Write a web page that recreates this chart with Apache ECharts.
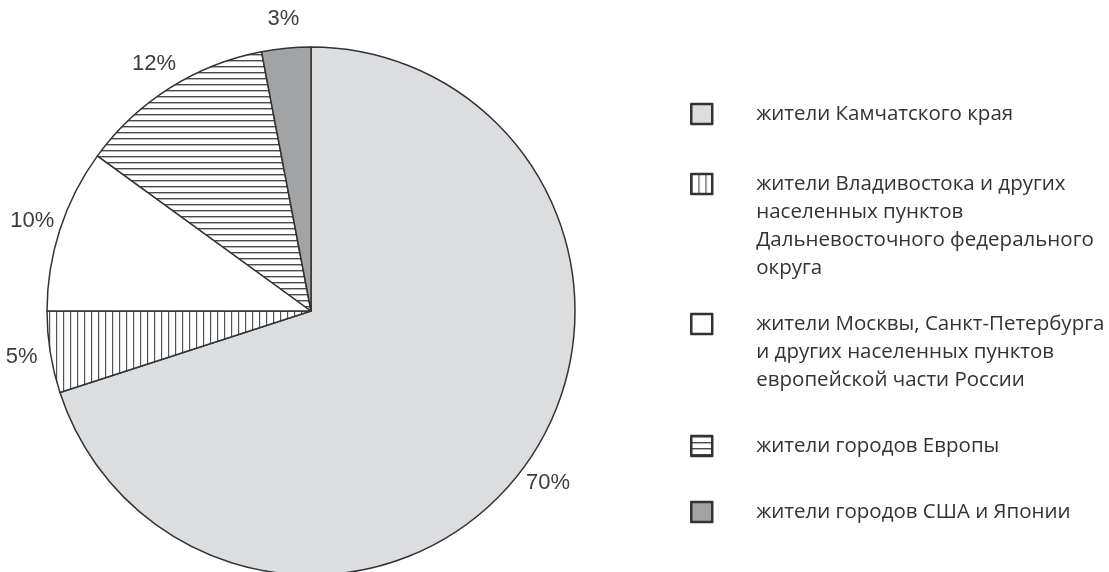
<!DOCTYPE html>
<html>
<head>
<meta charset="utf-8">
<script src="https://cdn.jsdelivr.net/npm/echarts@6/dist/echarts.min.js"></script>
<style>
  html, body { margin: 0; padding: 0; background: #fff; }
  #chart { width: 1109px; height: 572px; }
</style>
</head>
<body>
<div id="chart"></div>
<script>
// доли групп (по часовой стрелке от 12 часов)
const names = [
  'жители Камчатского края',
  'жители Владивостока и других населенных пунктов Дальневосточного федерального округа',
  'жители Москвы, Санкт-Петербурга и других населенных пунктов европейской части России',
  'жители городов Европы',
  'жители городов США и Японии'
];
const legendLines = [
  ['жители Камчатского края'],
  ['жители Владивостока и других', 'населенных пунктов', 'Дальневосточного федерального', 'округа'],
  ['жители Москвы, Санкт-Петербурга', 'и других населенных пунктов', 'европейской части России'],
  ['жители городов Европы'],
  ['жители городов США и Японии']
];
const values = [70, 5, 10, 12, 3];
const percentLabels = ['70%', '5%', '10%', '12%', '3%'];

// штриховки
function stripes(size, vertical, bg, line) {
  const c = document.createElement('canvas');
  c.width = size; c.height = size;
  const ctx = c.getContext('2d');
  ctx.fillStyle = bg;
  ctx.fillRect(0, 0, size, size);
  ctx.fillStyle = line;
  if (vertical) ctx.fillRect(0, 0, 1.2, size);
  else ctx.fillRect(0, 0, size, 1.4);
  return c;
}

const fills = [
  '#dcdddf',
  { image: stripes(7, true, '#ffffff', '#555555'), repeat: 'repeat' },
  '#ffffff',
  { image: stripes(6, false, '#ffffff', '#4a4a4a'), repeat: 'repeat' },
  '#a2a3a5'
];

const chart = echarts.init(document.getElementById('chart'));

const cx = 311, cy = 311, R = 264;
const lineH = 28;
const iconTops = [104, 174, 314, 436, 502];

// одна легенда на пункт: иконка напротив первой строки
const legends = names.map((name, i) => {
  const n = legendLines[i].length;
  const offset = (2 * n - 1) * 14 - 10;
  // пустые строки сверху сдвигают блок так, что первая строка встает по центру иконки
  const text = new Array(n - 1).fill('').concat(legendLines[i]).join('\n');
  return {
    orient: 'vertical',
    left: 690,
    top: iconTops[i] - offset,
    padding: 0,
    selectedMode: false,
    icon: 'rect',
    itemWidth: 21,
    itemHeight: 20,
    itemStyle: { borderColor: '#333', borderWidth: 2.5 },
    data: [name],
    formatter: () => text,
    textStyle: {
      fontFamily: 'Open Sans',
      fontSize: 20.5,
      lineHeight: lineH,
      color: '#333',
      padding: [0, 0, 0, 39]
    }
  };
});

const option = {
  animation: false,
  legend: legends,
  series: [
    {
      type: 'pie',
      center: [cx, cy],
      radius: [0, R],
      startAngle: 90,
      clockwise: true,
      silent: true,
      label: { show: false },
      labelLine: { show: false },
      itemStyle: { borderColor: '#333', borderWidth: 1.5 },
      data: names.map((name, i) => ({
        name,
        value: values[i],
        itemStyle: { color: fills[i] }
      }))
    },
    {
      // кольцо для подписей процентов
      type: 'pie',
      center: [cx, cy],
      radius: [R, R + 52],
      startAngle: 90,
      clockwise: true,
      silent: true,
      itemStyle: { color: 'rgba(0,0,0,0)', borderWidth: 0 },
      labelLine: { show: false },
      label: {
        show: true,
        position: 'inside',
        fontFamily: 'Liberation Sans',
        fontSize: 22,
        color: '#3c3c3c',
        formatter: (p) => percentLabels[p.dataIndex]
      },
      data: names.map((name, i) => ({ name, value: values[i] }))
    }
  ]
};

chart.setOption(option);
</script>
</body>
</html>
